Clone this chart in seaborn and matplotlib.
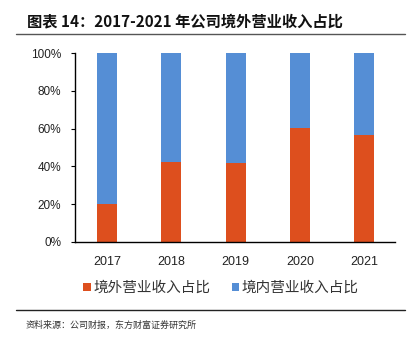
import matplotlib
matplotlib.use("Agg")
import matplotlib.pyplot as plt
import seaborn as sns
import pandas as pd
from matplotlib.patches import Patch
from matplotlib.lines import Line2D

years = ["2017", "2018", "2019", "2020", "2021"]
overseas = [19.9, 42.5, 41.6, 60.5, 56.6]
domestic = [100 - v for v in overseas]
series_names = ["境外营业收入占比", "境内营业收入占比"]
yticks = [0, 20, 40, 60, 80, 100]
title = "图表 14：2017-2021 年公司境外营业收入占比"
source = "资料来源：公司财报，东方财富证券研究所"

c_orange = "#DD4F1E"
c_blue = "#558ED5"

sns.set_theme(style="white")
plt.rcParams["font.family"] = ["Liberation Sans", "Noto Sans CJK SC", "DejaVu Sans"]

df = pd.DataFrame({"year": years, "overseas": overseas,
                   "total": [o + d for o, d in zip(overseas, domestic)]})

fig = plt.figure(figsize=(4.12, 3.42), dpi=100)
ax = fig.add_axes([75/412, 1-242/342, (395-75)/412, (242-53)/342])

sns.barplot(data=df, x="year", y="total", color=c_blue, width=0.31,
            saturation=1, ax=ax, linewidth=0)
sns.barplot(data=df, x="year", y="overseas", color=c_orange, width=0.31,
            saturation=1, ax=ax, linewidth=0)

ax.set_xlim(-0.5, 4.48)
ax.set_ylim(0, 100)
ax.set_yticks(yticks)
ax.set_yticklabels([f"{t}%" for t in yticks])
ax.set_xlabel("")
ax.set_ylabel("")
for s in ["top", "right"]:
    ax.spines[s].set_visible(False)
for s in ["left", "bottom"]:
    ax.spines[s].set_color("black")
    ax.spines[s].set_linewidth(1.0)
ax.tick_params(axis="y", left=True, direction="out", length=3, width=0.8,
               labelsize=8.5, pad=7, colors="black", labelcolor="#222222")
ax.tick_params(axis="x", bottom=False, labelsize=9, pad=4, labelcolor="#222222")

handles = [Patch(facecolor=c_orange, edgecolor="none"),
           Patch(facecolor=c_blue, edgecolor="none")]
fig.legend(handles, series_names, loc="center", bbox_to_anchor=(221/412, 1-288/342),
           ncol=2, frameon=False, handlelength=0.5, handleheight=0.5,
           handletextpad=0.2, columnspacing=1.45, borderpad=0, borderaxespad=0,
           prop={"family": ["Noto Sans CJK SC"], "size": 10.5}, labelcolor="#333333")

fig.text(27/412, 1-21/342, title, ha="left", va="center", fontsize=11,
         fontweight="bold", family=["Noto Sans CJK SC"], color="#111111")
fig.add_artist(Line2D([16/412, 405/412], [1-34/342, 1-34/342], color="#555555", lw=1.0))
fig.add_artist(Line2D([16/412, 405/412], [1-310/342, 1-310/342], color="#222222", lw=1.0))
fig.text(26/412, 1-325/342, source, ha="left", va="center", fontsize=6.5,
         family=["Noto Sans CJK SC"], color="#333333")

fig.savefig("out.png", dpi=100)
